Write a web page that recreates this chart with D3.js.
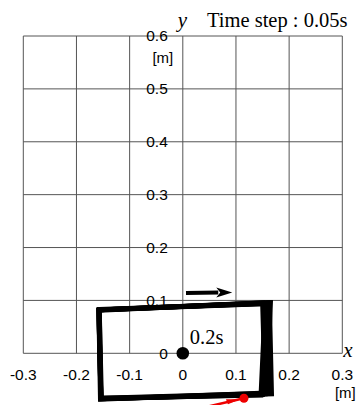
<!DOCTYPE html>
<html>
<head>
<meta charset="utf-8">
<script src="https://cdn.jsdelivr.net/npm/d3@7"></script>
<style>
  body { margin: 0; background: #fff; }
  svg { display: block; }
</style>
</head>
<body>
<svg id="chart"></svg>
<script>
// dimensões da janela
var width = 358, height = 405;

// ticks dos eixos
var xTicks = [-0.3, -0.2, -0.1, 0, 0.1, 0.2, 0.3];
var yTicks = [0, 0.1, 0.2, 0.3, 0.4, 0.5, 0.6];
var xTickLabels = ["-0.3", "-0.2", "-0.1", "0", "0.1", "0.2", "0.3"];
var yTickLabels = ["0", "0.1", "0.2", "0.3", "0.4", "0.5", "0.6"];

// contornos do corpo a cada passo (x, y em metros)
var frames = [
  [[-0.158, 0.082], [0.163, 0.096], [0.167, -0.077], [-0.154, -0.086]],
  [[-0.158, 0.082], [0.160, 0.095], [0.150, -0.078], [-0.154, -0.086]],
  [[-0.157, 0.083], [0.155, 0.094], [0.147, -0.079], [-0.153, -0.085]],
  [[-0.158, 0.081], [0.165, 0.096], [0.158, -0.075], [-0.155, -0.087]],
  [[-0.157, 0.082], [0.150, 0.095], [0.155, -0.077], [-0.154, -0.086]],
  [[-0.158, 0.082], [0.162, 0.094], [0.163, -0.076], [-0.154, -0.085]]
];

// centro de massa, seta de direção e força
var centre = [0, 0];
var centreLabel = "0.2s";
var arrowFrom = [0.006, 0.114], arrowTo = [0.093, 0.115];
var forceFrom = [0.02, -0.107], forceTo = [0.115, -0.085];
var title = "Time step : 0.05s";

var svg = d3.select("#chart")
  .attr("width", width)
  .attr("height", height);

var x = d3.scaleLinear().domain([-0.3, 0.3]).range([23.3, 342.3]);
var y = d3.scaleLinear().domain([0, 0.6]).range([353.3, 36]);

// grade
var grid = svg.append("g").attr("stroke", "#555").attr("stroke-width", 1);
grid.selectAll(".v").data(xTicks).enter().append("line")
  .attr("class", "v")
  .attr("x1", d => x(d)).attr("x2", d => x(d))
  .attr("y1", y(0)).attr("y2", y(0.6));
grid.selectAll(".h").data(yTicks).enter().append("line")
  .attr("class", "h")
  .attr("x1", x(-0.3)).attr("x2", x(0.3))
  .attr("y1", d => y(d)).attr("y2", d => y(d));

// rótulos
var sans = "Liberation Sans, Arial, sans-serif";
var serif = "Liberation Serif, Times New Roman, serif";

svg.selectAll(".xl").data(xTicks).enter().append("text")
  .attr("x", d => x(d)).attr("y", y(0) + 27)
  .attr("text-anchor", "middle")
  .style("font", "15.5px " + sans)
  .text((d, i) => xTickLabels[i]);

svg.selectAll(".yl").data(yTicks).enter().append("text")
  .attr("x", x(0) - 15).attr("y", d => y(d))
  .attr("dy", "0.35em")
  .attr("text-anchor", "end")
  .style("font", "15.5px " + sans)
  .text((d, i) => yTickLabels[i]);

svg.append("text").attr("x", x(0) - 20).attr("y", y(0.6) + 27)
  .attr("text-anchor", "middle").style("font", "15px " + sans).text("[m]");
svg.append("text").attr("x", x(0.3) + 3).attr("y", y(0) + 45)
  .attr("text-anchor", "middle").style("font", "15px " + sans).text("[m]");

svg.append("text").attr("x", x(0) - 5).attr("y", y(0.6) - 9)
  .style("font", "italic 21px " + serif).text("y");
svg.append("text").attr("x", x(0.3) + 1).attr("y", y(0) + 4)
  .style("font", "italic 21px " + serif).text("x");
svg.append("text").attr("x", 207).attr("y", 27)
  .style("font", "20.5px " + serif).text(title);

// contornos
var line = d3.line().x(d => x(d[0])).y(d => y(d[1])).curve(d3.curveLinearClosed);
svg.selectAll(".frame").data(frames).enter().append("path")
  .attr("d", line)
  .attr("fill", "none")
  .attr("stroke", "#000")
  .attr("stroke-width", 4.8)
  .attr("stroke-linejoin", "miter");

// centro
svg.append("circle")
  .attr("cx", x(centre[0])).attr("cy", y(centre[1]))
  .attr("r", 6.3).attr("fill", "#000");
svg.append("text").attr("x", x(centre[0]) + 7).attr("y", y(centre[1]) - 9)
  .style("font", "20.5px " + serif).text(centreLabel);

// seta
var ax0 = x(arrowFrom[0]), ay0 = y(arrowFrom[1]), ax1 = x(arrowTo[0]), ay1 = y(arrowTo[1]);
svg.append("line")
  .attr("x1", ax0).attr("y1", ay0).attr("x2", ax1 - 14).attr("y2", ay1)
  .attr("stroke", "#000").attr("stroke-width", 4);
svg.append("path")
  .attr("d", "M" + ax1 + "," + ay1 + "L" + (ax1 - 16) + "," + (ay1 - 5) + "L" + (ax1 - 12) + "," + ay1 + "L" + (ax1 - 16) + "," + (ay1 + 5) + "Z")
  .attr("fill", "#000");

// força (vermelho)
var fx0 = x(forceFrom[0]), fy0 = y(forceFrom[1]), fx1 = x(forceTo[0]), fy1 = y(forceTo[1]);
svg.append("line")
  .attr("x1", fx0).attr("y1", fy0).attr("x2", fx1).attr("y2", fy1)
  .attr("stroke", "#e00").attr("stroke-width", 2.5);
svg.append("path")
  .attr("d", "M" + (fx1 - 4) + "," + (fy1 + 1) + "L" + (fx1 - 18) + "," + (fy1 + 1) + "L" + (fx1 - 16) + "," + (fy1 + 6) + "Z")
  .attr("fill", "#e00");
svg.append("circle")
  .attr("cx", fx1).attr("cy", fy1)
  .attr("r", 4.5).attr("fill", "#e00");
</script>
</body>
</html>
